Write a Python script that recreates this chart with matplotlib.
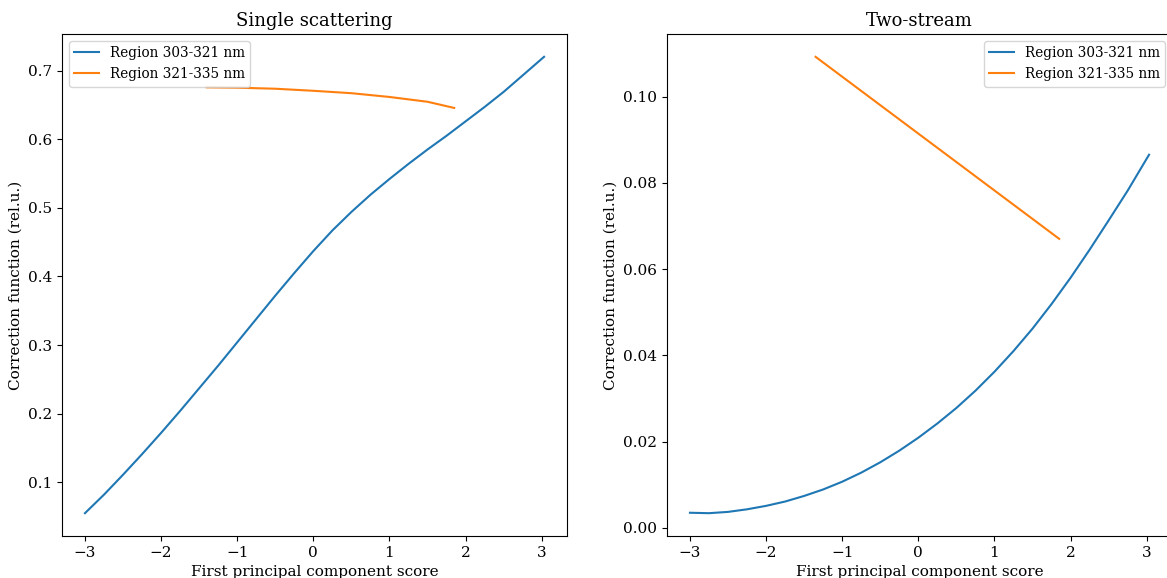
import numpy as np
import matplotlib
matplotlib.use("Agg")
import matplotlib.pyplot as plt

plt.rcParams['font.family'] = 'serif'
plt.rcParams['font.serif'] = ['DejaVu Serif']

labels = ["Region 303-321 nm", "Region 321-335 nm"]

# single scattering
ss_x1 = [-3.0, -2.75, -2.5, -2.25, -2.0, -1.75, -1.5, -1.25, -1.0, -0.75, -0.5, -0.25, 0.0,
         0.25, 0.5, 0.75, 1.0, 1.25, 1.5, 1.75, 2.0, 2.25, 2.5, 2.75, 3.03]
ss_y1 = [0.055, 0.082, 0.111, 0.141, 0.172, 0.204, 0.237, 0.270, 0.304, 0.338, 0.372, 0.405, 0.437,
         0.467, 0.494, 0.519, 0.542, 0.564, 0.585, 0.605, 0.626, 0.647, 0.669, 0.693, 0.720]
ss_x2 = [-1.4, -1.0, -0.5, 0.0, 0.5, 1.0, 1.5, 1.85]
ss_y2 = [0.6755, 0.675, 0.6735, 0.6705, 0.667, 0.6615, 0.6545, 0.6455]

# two-stream
ts_x1 = [-3.0, -2.75, -2.5, -2.25, -2.0, -1.75, -1.5, -1.25, -1.0, -0.75, -0.5, -0.25, 0.0,
         0.25, 0.5, 0.75, 1.0, 1.25, 1.5, 1.75, 2.0, 2.25, 2.5, 2.75, 3.03]
ts_y1 = [0.0035, 0.0034, 0.0037, 0.0043, 0.0051, 0.0061, 0.0074, 0.0089, 0.0107, 0.0128, 0.0152,
         0.0179, 0.0209, 0.0242, 0.0278, 0.0318, 0.0362, 0.0410, 0.0462, 0.0519, 0.0580, 0.0645,
         0.0713, 0.0782, 0.0865]
ts_x2 = [-1.35, 0.25, 1.85]
ts_y2 = [0.1092, 0.0881, 0.0670]

fig = plt.figure(figsize=(11.67, 5.78), dpi=100)
ax1 = fig.add_axes([62/1167, 42/578, 505/1167, 502/578])
ax2 = fig.add_axes([667/1167, 42/578, 505/1167, 502/578])

for ax, x1, y1, x2, y2, title in [(ax1, ss_x1, ss_y1, ss_x2, ss_y2, "Single scattering"),
                                  (ax2, ts_x1, ts_y1, ts_x2, ts_y2, "Two-stream")]:
    ax.plot(x1, y1, label=labels[0])
    ax.plot(x2, y2, label=labels[1])
    ax.set_title(title, fontsize=13)
    ax.set_xlabel("First principal component score", fontsize=11)
    ax.set_ylabel("Correction function (rel.u.)", fontsize=11)
    ax.tick_params(labelsize=11)

ax1.legend(loc="upper left", fontsize=9.8, handlelength=1.8)
ax2.legend(loc="upper right", fontsize=9.8, handlelength=1.8)

fig.savefig("out.png", dpi=100)
